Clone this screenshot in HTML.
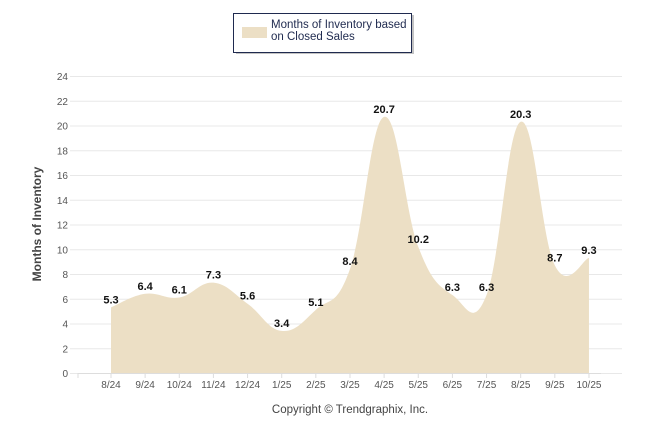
<!DOCTYPE html>
<html><head><meta charset="utf-8"><style>
body{margin:0;background:#fff;width:646px;height:434px;overflow:hidden;font-family:"Liberation Sans",sans-serif}
</style></head><body>
<svg width="646" height="434" id="c" xmlns="http://www.w3.org/2000/svg">
<g id="grid"></g>
<path id="area" fill="#ecdfc5" stroke="none"/>
<g id="labels"></g>
<text x="41" y="224" transform="rotate(-90 41 224)" text-anchor="middle" font-size="12" font-weight="bold" fill="#444">Months of Inventory</text>
<text x="350" y="413" text-anchor="middle" font-size="11.5" fill="#444">Copyright © Trendgraphix, Inc.</text>
<g>
<rect x="236" y="15" width="178" height="39" fill="#888" opacity="0.5"/>
<rect x="233.5" y="13.5" width="178" height="39" fill="#fff" stroke="#1f2a4f" stroke-width="1"/>
<rect x="242" y="27" width="25" height="11" fill="#ecdfc5"/>
<text x="271" y="28" font-size="11.5" fill="#1f2a4f">Months of Inventory based</text>
<text x="271" y="40" font-size="11.5" fill="#1f2a4f">on Closed Sales</text>
</g>
</svg>
<script>
const categories=["8/24","9/24","10/24","11/24","12/24","1/25","2/25","3/25","4/25","5/25","6/25","7/25","8/25","9/25","10/25"];
const values=[5.3,6.4,6.1,7.3,5.6,3.4,5.1,8.4,20.7,10.2,6.3,6.3,20.3,8.7,9.3];
const yTicks=[0,2,4,6,8,10,12,14,16,18,20,22,24];
const NS="http://www.w3.org/2000/svg";
const x=i=>111+i*34.14;
const y=v=>373-v*12.375;
const grid=document.getElementById('grid');
function mk(t,a,p){const e=document.createElementNS(NS,t);for(const k in a)e.setAttribute(k,a[k]);p.appendChild(e);return e;}
yTicks.forEach(v=>{
 const l=mk('line',{x1:70,x2:622,y1:y(v)+.5,y2:y(v)+.5,stroke:'#e8e8e8'},grid);
 
 
 const t=mk('text',{x:68,y:y(v)+4,'text-anchor':'end','font-size':'10',fill:'#555'},grid);
 t.textContent=v;
 
 
});
mk('line',{x1:78,x2:x(14)+12,y1:373.5,y2:373.5,stroke:'#ddd'},grid);
mk('line',{x1:78,x2:78,y1:373,y2:378,stroke:'#ddd'},grid);
categories.forEach((c,i)=>{
 mk('line',{x1:x(i),x2:x(i),y1:373,y2:378,stroke:'#ddd'},grid);
 const t=mk('text',{x:x(i),y:388,'text-anchor':'middle','font-size':'10',fill:'#555'},grid);
 t.textContent=c;
 
 
});
const pts=values.map((v,i)=>[x(i),y(v)]);
let d=`M${pts[0][0]},373 L${pts[0][0]},${pts[0][1]}`;
for(let i=0;i<pts.length-1;i++){
 const p0=pts[Math.max(0,i-1)],p1=pts[i],p2=pts[i+1],p3=pts[Math.min(pts.length-1,i+2)];
 const k=0.2;
 d+=` C${p1[0]+(p2[0]-p0[0])*k},${p1[1]+(p2[1]-p0[1])*k} ${p2[0]-(p3[0]-p1[0])*k},${p2[1]-(p3[1]-p1[1])*k} ${p2[0]},${p2[1]}`;
}
d+=` L${pts[pts.length-1][0]},373 Z`;
document.getElementById('area').setAttribute('d',d);
const lg=document.getElementById('labels');
values.forEach((v,i)=>{
 const t=mk('text',{x:x(i),y:y(v)-4,'text-anchor':'middle','font-size':'11','font-weight':'bold',fill:'#111'},lg);
 t.textContent=v.toFixed(1);
 
 
});
</script>
</body></html>
